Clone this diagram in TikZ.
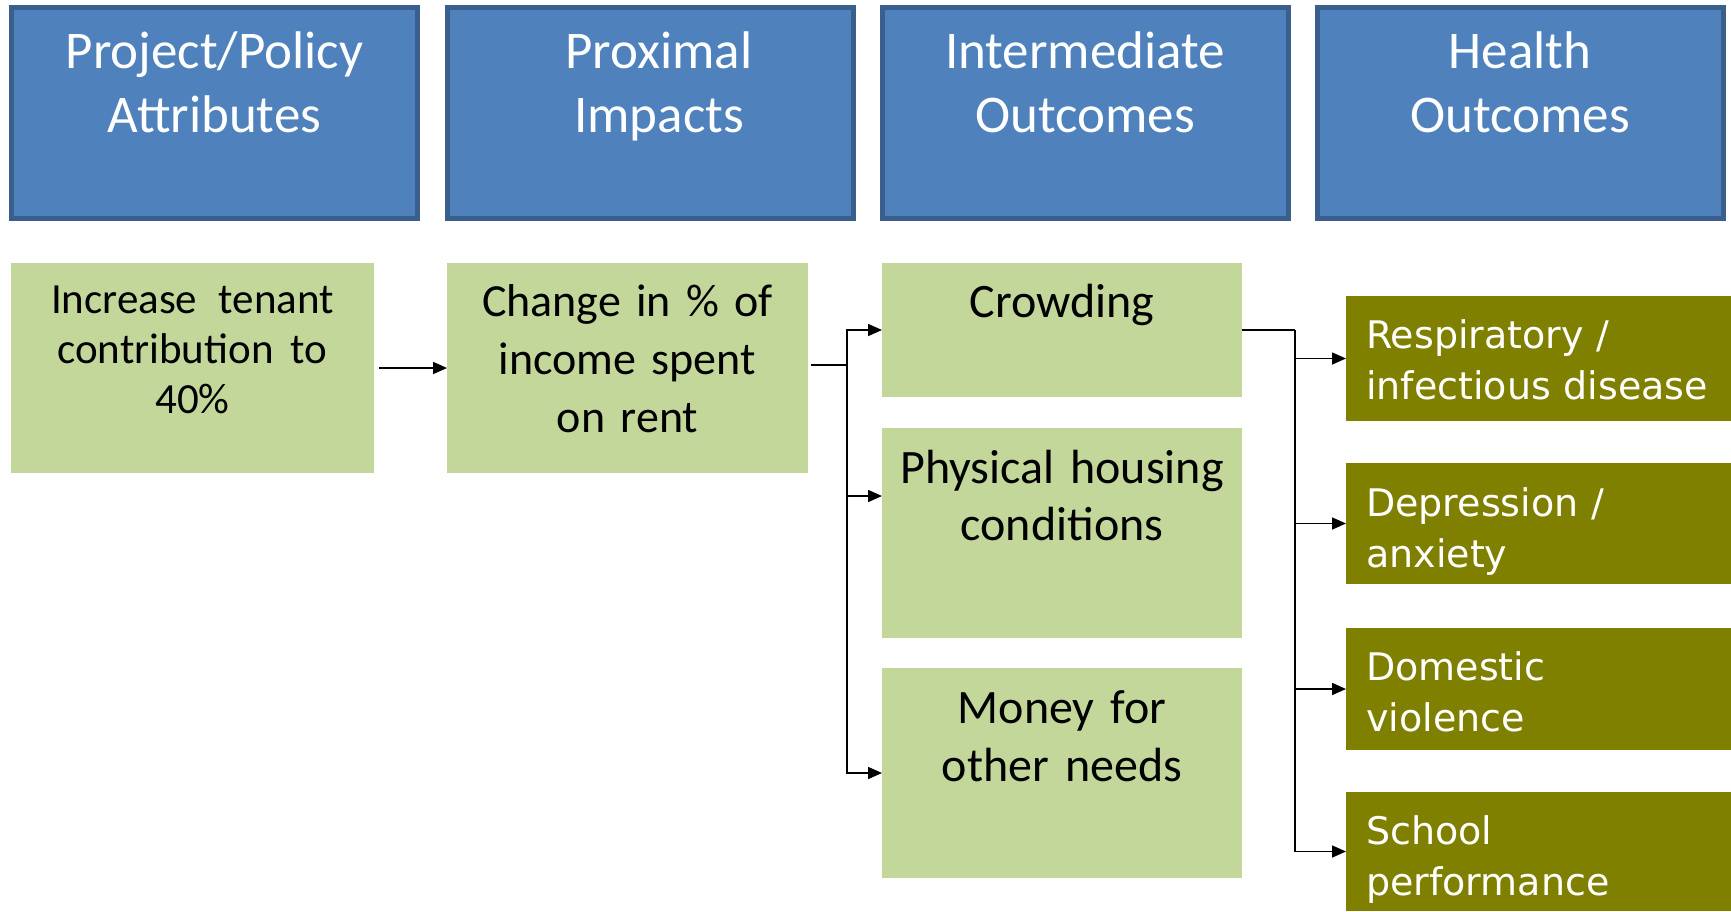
\documentclass[tikz,border=0pt]{standalone}
\usepackage{fontspec}
\setmainfont{Carlito}
\newfontfamily\olivefont{DejaVu Sans}
\usetikzlibrary{arrows.meta}
\definecolor{hdrfill}{HTML}{4F81BD}
\definecolor{hdrdraw}{HTML}{3A5F8C}
\definecolor{lgreen}{HTML}{C4D79B}
\definecolor{olivebox}{HTML}{808000}
\begin{document}
\begin{tikzpicture}[x=1pt,y=-1pt,
  hdr/.style={draw=hdrdraw, fill=hdrfill, line width=5pt, minimum width=406pt, minimum height=211pt, inner sep=0pt, outer sep=0pt},
  hdrtxt/.style={text=white, font=\fontsize{53}{64}\selectfont, text width=400pt, align=center, anchor=base, inner sep=0pt},
  gbox/.style={fill=lgreen, anchor=north west, inner sep=0pt, outer sep=0pt},
  gtxt/.style={text=black, text width=350pt, align=center, anchor=base, inner sep=0pt},
  obox/.style={fill=olivebox, anchor=north west, inner sep=0pt, outer sep=0pt, minimum width=385pt},
  otxt/.style={text=white, font=\olivefont\fontsize{38}{51}\selectfont, text width=360pt, align=left, anchor=base west, inner sep=0pt},
  arr/.style={-{Triangle[length=14pt,width=12pt]}, line width=1.6pt},
  trunk/.style={line width=2.6pt}
]
\useasboundingbox (0,0) rectangle (1731,911);

% header boxes
\node[hdr] (h1) at (214.5,113) {};
\node[hdr] (h2) at (650,113) {};
\node[hdr] (h3) at (1085,113) {};
\node[hdr] (h4) at (1520,113) {};
\node[hdrtxt] (h1t) at (214.5,68) {Project/Policy\\Attributes};
\node[hdrtxt] (h2t) at (659,68) {Proximal\\Impacts};
\node[hdrtxt] (h3t) at (1085,68) {Intermediate\\Outcomes};
\node[hdrtxt] (h4t) at (1520,68) {Health\\Outcomes};

% green boxes
\node[gbox, minimum width=363pt, minimum height=210pt] (a) at (11,263) {};
\node[gbox, minimum width=361pt, minimum height=210pt] (b) at (447,263) {};
\node[gbox, minimum width=360pt, minimum height=134pt] (crowd) at (882,263) {};
\node[gbox, minimum width=360pt, minimum height=210pt] (phys) at (882,428) {};
\node[gbox, minimum width=360pt, minimum height=210pt] (money) at (882,668) {};

\node[gtxt, font=\fontsize{43}{50}\selectfont] (at) at (192.5,313) {Increase\hspace{0.5em}tenant\\contribution\hspace{0.4em}to\\40\%};
\node[gtxt, font=\fontsize{46}{58}\selectfont] (bt) at (627.5,316) {Change in \% of\\income spent\\on rent};
\node[gtxt, font=\fontsize{48}{58}\selectfont] (crowdt) at (1062,317) {Crowding};
\node[gtxt, font=\fontsize{48}{57}\selectfont] (physt) at (1062,483) {Physical housing\\conditions};
\node[gtxt, font=\fontsize{48}{58}\selectfont] (moneyt) at (1062,723) {Money for\\other needs};

% olive boxes
\node[obox, minimum height=125pt] (o1) at (1346,296) {};
\node[obox, minimum height=121pt] (o2) at (1346,463) {};
\node[obox, minimum height=122pt] (o3) at (1346,628) {};
\node[obox, minimum height=119pt] (o4) at (1346,792) {};
\node[otxt] (o1t) at (1366,348) {Respiratory /\\infectious disease};
\node[otxt] (o2t) at (1366,516) {Depression /\\anxiety};
\node[otxt] (o3t) at (1366,680) {Domestic\\violence};
\node[otxt] (o4t) at (1366,844) {School\\performance};

% connectors
\draw[arr, shorten <=5pt] (a.east) -- (b.west);

\coordinate (j1) at (847,365);
\coordinate (physin) at (882,496);
\draw[trunk, shorten <=3pt] (b.east |- j1) -- (j1);
\draw[arr] (j1) |- (crowd.west);
\draw[arr] (j1) |- (physin);
\draw[arr] (j1) |- (money.west);

\coordinate (j2) at (1295,330);
\draw[trunk] (crowd.east) -- (j2);
\draw[arr] (j2) |- (o1.west);
\draw[arr] (j2) |- (o2.west);
\draw[arr] (j2) |- (o3.west);
\draw[arr] (j2) |- (o4.west);
\end{tikzpicture}
\end{document}
